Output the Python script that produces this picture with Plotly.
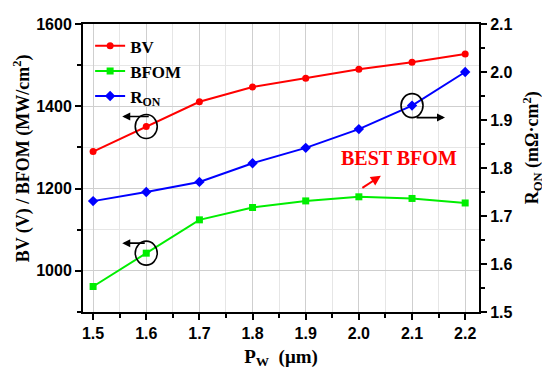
import plotly.graph_objects as go

pw = [1.5, 1.6, 1.7, 1.8, 1.9, 2.0, 2.1, 2.2]
bv = [1290, 1351, 1411, 1447, 1468, 1490, 1507, 1527]
bfom = [962, 1043, 1124, 1154, 1170, 1180, 1176, 1165]
ron = [1.731, 1.750, 1.771, 1.810, 1.842, 1.881, 1.930, 2.000]

x_ticks = [1.5, 1.6, 1.7, 1.8, 1.9, 2.0, 2.1, 2.2]

serif = "Liberation Serif, Times New Roman, serif"
sans = "Liberation Sans, Arial, sans-serif"

fig = go.Figure()
fig.add_trace(go.Scatter(x=pw, y=bv, name="<b>BV</b>", mode="lines+markers",
                         line=dict(color="#ff0000", width=2),
                         marker=dict(symbol="circle", size=7, color="#ff0000")))
fig.add_trace(go.Scatter(x=pw, y=bfom, name="<b>BFOM</b>", mode="lines+markers",
                         line=dict(color="#00ee00", width=2),
                         marker=dict(symbol="square", size=7, color="#00ee00")))
fig.add_trace(go.Scatter(x=pw, y=ron, name="<b>R<sub>ON</sub></b>", mode="lines+markers",
                         yaxis="y2",
                         line=dict(color="#0000ff", width=2),
                         marker=dict(symbol="diamond", size=8, color="#0000ff")))

# circles around highlighted points
for xv, yv, yref in [(1.6, bv[1], "y"), (1.6, bfom[1], "y"), (2.1, ron[6], "y2")]:
    fig.add_shape(type="circle", xref="x", yref=yref,
                  xsizemode="pixel", ysizemode="pixel",
                  xanchor=xv, yanchor=yv,
                  x0=-11, x1=11, y0=-12, y1=12,
                  line=dict(color="black", width=1.6))

# direction arrows
arrows = [
    dict(x=1.6, y=bv[1], xs=-24, ys=10, ax=28),
    dict(x=1.6, y=bfom[1], xs=-24, ys=10, ax=24),
]
for a in arrows:
    fig.add_annotation(x=a["x"], y=a["y"], xref="x", yref="y", text="",
                       showarrow=True, arrowhead=2, arrowsize=1, arrowwidth=1.6,
                       arrowcolor="black", ax=a["ax"], ay=0,
                       xshift=a["xs"], yshift=a["ys"])
fig.add_annotation(x=2.1, y=ron[6], xref="x", yref="y2", text="",
                   showarrow=True, arrowhead=2, arrowsize=1, arrowwidth=1.6,
                   arrowcolor="black", ax=-30, ay=0, xshift=33, yshift=-12)

# BEST BFOM label with arrow
fig.add_annotation(x=2.0, y=bfom[5], xref="x", yref="y", text="",
                   showarrow=True, arrowhead=2, arrowsize=1, arrowwidth=2,
                   arrowcolor="#ff0000", ax=-20, ay=13, xshift=22, yshift=21)
fig.add_annotation(x=2.075, y=bfom[5], xref="x", yref="y", text="<b>BEST BFOM</b>",
                   showarrow=False, font=dict(family=serif, size=20, color="#ff0000"),
                   yshift=39)

tickfont = dict(family=sans, size=16, color="black", weight="bold")
titlefont = dict(family=serif, size=18, color="black", weight="bold")

# axis titles as rotated annotations
fig.add_annotation(x=-0.153, y=0.535, xref="paper", yref="paper",
                   text="<b>BV (V) / BFOM (MW/cm<sup>2</sup>)</b>",
                   textangle=-90, showarrow=False, font=titlefont,
                   xanchor="center", yanchor="middle")
fig.add_annotation(x=1.135, y=0.57, xref="paper", yref="paper",
                   text="<b>R<sub>ON</sub> (mΩ·cm<sup>2</sup>)</b>",
                   textangle=-90, showarrow=False, font=titlefont,
                   xanchor="center", yanchor="middle")

# page body has an 8px margin, so the figure is drawn at (8, 8)
fig.update_layout(
    width=542, height=366,
    margin=dict(l=75, r=71, t=16, b=62, autoexpand=False),
    paper_bgcolor="white", plot_bgcolor="white",
    showlegend=True,
    legend=dict(x=0.018, y=0.985, xanchor="left", yanchor="top",
                font=dict(family=serif, size=17, color="black"),
                bgcolor="rgba(0,0,0,0)", tracegroupgap=0, itemwidth=30),
    xaxis=dict(range=[1.481, 2.226], tickvals=x_ticks, automargin=False,
               ticktext=[f"{v:.1f}" for v in x_ticks],
               showline=True, linecolor="black", linewidth=2, mirror=True,
               ticks="outside", ticklen=6, tickwidth=2, tickcolor="black",
               showgrid=True, gridcolor="#cfcfcf", gridwidth=1,
               minor=dict(dtick=0.05, tick0=1.5, ticks="outside", ticklen=4,
                          tickwidth=1.5, tickcolor="black",
                          showgrid=True, gridcolor="#e6e6e6"),
               tickfont=tickfont, zeroline=False,
               title=dict(text="<b>P<sub>W</sub>  (μm)</b>", font=dict(family=serif, size=19, color="black"), standoff=8)),
    yaxis=dict(range=[900, 1600], tick0=1000, dtick=200, automargin=False,
               showline=True, linecolor="black", linewidth=2,
               ticks="outside", ticklen=6, tickwidth=2, tickcolor="black",
               showgrid=True, gridcolor="#cfcfcf", gridwidth=1,
               minor=dict(dtick=100, tick0=900, ticks="outside", ticklen=4,
                          tickwidth=1.5, tickcolor="black",
                          showgrid=True, gridcolor="#e6e6e6"),
               tickfont=tickfont, zeroline=False),
    yaxis2=dict(range=[1.5, 2.1], dtick=0.1, tick0=1.5, overlaying="y", side="right",
                automargin=False,
                showline=True, linecolor="black", linewidth=2,
                ticks="outside", ticklen=6, tickwidth=2, tickcolor="black",
                minor=dict(dtick=0.05, ticks="outside", ticklen=4, tickwidth=1.5,
                           tickcolor="black", showgrid=False),
                showgrid=False, zeroline=False, tickformat=".1f",
                tickfont=tickfont),
)

fig.write_html("out.html")
